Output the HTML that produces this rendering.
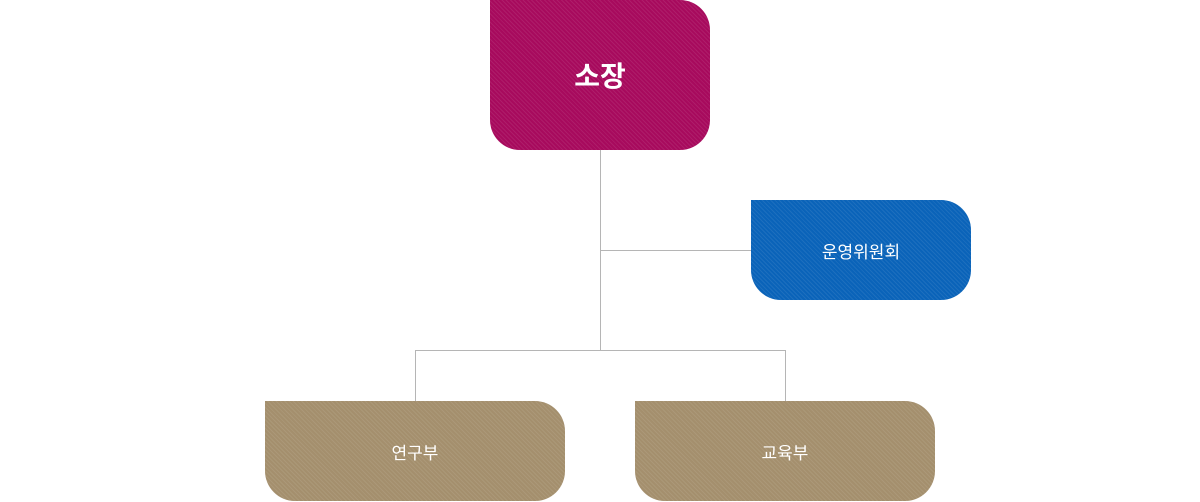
<!DOCTYPE html>
<html><head><meta charset="utf-8"><style>
body{margin:0;width:1200px;height:502px;background:#fff;position:relative;overflow:hidden;font-family:"Liberation Sans","Noto Sans CJK KR",sans-serif}
.b{position:absolute;border-radius:0 30px 30px 30px;color:#fff;display:flex;align-items:center;justify-content:center;
background-image:repeating-linear-gradient(45deg,rgba(255,255,255,0.08) 0 1px,rgba(0,0,0,0) 1px 3px)}
.l{position:absolute;background:#b5b5b5}
</style></head><body>
<div class="l" style="left:600px;top:150px;width:1px;height:200px"></div>
<div class="l" style="left:600px;top:250px;width:151px;height:1px"></div>
<div class="l" style="left:415px;top:350px;width:371px;height:1px"></div>
<div class="l" style="left:415px;top:350px;width:1px;height:51px"></div>
<div class="l" style="left:785px;top:350px;width:1px;height:51px"></div>
<div class="b" style="left:490px;top:0;width:220px;height:150px;background-color:#a70a5d;font-size:28px;font-weight:bold">소장</div>
<div class="b" style="left:751px;top:200px;width:220px;height:100px;background-color:#0a63b9;font-size:17px">운영위원회</div>
<div class="b" style="left:265px;top:401px;width:300px;height:100px;background-color:#a48f6d;font-size:17px">연구부</div>
<div class="b" style="left:635px;top:401px;width:300px;height:100px;background-color:#a48f6d;font-size:17px">교육부</div>
</body></html>
